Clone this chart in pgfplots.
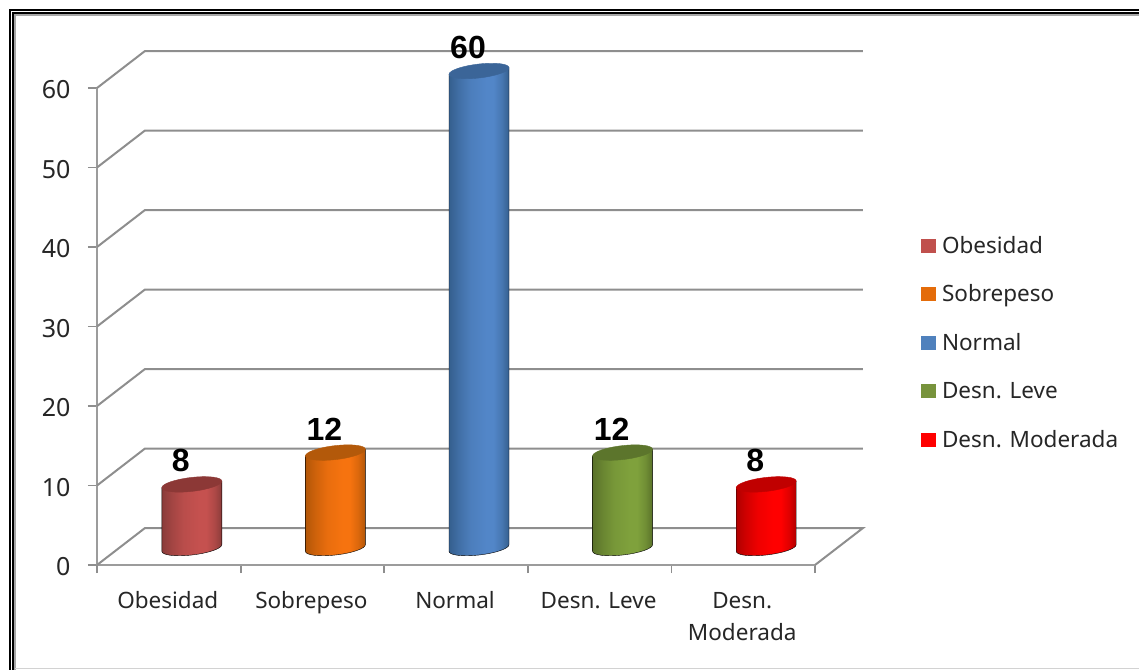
\documentclass[border=0pt]{standalone}
\usepackage{pgfplots}
\usepackage{fontspec}
\pgfplotsset{compat=1.18}
\setmainfont{Noto Sans}
\newfontfamily\lblfont{Liberation Sans}
\pgfdeclareplotmark{cylnull}{}
\definecolor{gridc}{HTML}{8E8E8E}
\definecolor{axisc}{HTML}{9C9C9C}
\definecolor{txt}{HTML}{262626}
\definecolor{aM}{HTML}{C5514F}\definecolor{aE}{HTML}{8A3C3A}\definecolor{aT}{HTML}{8C3836}\definecolor{aL}{HTML}{C0504D}
\definecolor{bM}{HTML}{F6730F}\definecolor{bE}{HTML}{B25608}\definecolor{bT}{HTML}{B3590A}\definecolor{bL}{HTML}{E46C0A}
\definecolor{cM}{HTML}{5286C8}\definecolor{cE}{HTML}{355F8E}\definecolor{cT}{HTML}{3B6598}\definecolor{cL}{HTML}{4F81BD}
\definecolor{dM}{HTML}{7FA13C}\definecolor{dE}{HTML}{5A722A}\definecolor{dT}{HTML}{5C752C}\definecolor{dL}{HTML}{77933C}
\definecolor{eM}{HTML}{FF0000}\definecolor{eE}{HTML}{B00000}\definecolor{eT}{HTML}{C00000}\definecolor{eL}{HTML}{FF0000}
\newcommand\defcyl[1]{%
  \pgfdeclarehorizontalshading{cyl#1}{100bp}{%
    color(0bp)=(#1E); color(25bp)=(#1E); color(33bp)=(#1E!60!#1M); color(43bp)=(#1E!20!#1M);
    color(56bp)=(#1M); color(62bp)=(#1M); color(69bp)=(#1E!40!#1M); color(75bp)=(#1E); color(100bp)=(#1E)}}
\defcyl{a}\defcyl{b}\defcyl{c}\defcyl{d}\defcyl{e}
\newcommand\drawcyl[2]{%
  \pgfmathsetmacro\cylh{\cylval*7.95}%
  \begin{scope}[x=1pt,y=1pt]
    \shade[shading=#1]
      (-30,-3.3) -- (-30,-3.3-\cylh)
      .. controls (-30,-7.17-\cylh) and (-16.57,-8.82-\cylh) .. (0,-7-\cylh)
      .. controls (16.57,-5.18-\cylh) and (30,-0.57-\cylh) .. (30,3.3-\cylh)
      -- (30,3.3) -- (-30,-3.3) -- cycle;
    \fill[#2] (-30,-3.3)
      .. controls (-30,-7.17) and (-16.57,-8.82) .. (0,-7)
      .. controls (16.57,-5.18) and (30,-0.57) .. (30,3.3)
      .. controls (30,7.17) and (16.57,8.82) .. (0,7)
      .. controls (-16.57,5.18) and (-30,0.57) .. (-30,-3.3) -- cycle;
  \end{scope}}
\pgfplotsset{
  cyl/.style n args={3}{
    only marks, mark=cylnull,
    nodes near coords,
    every node near coord/.append style={
      font=\fontsize{32}{32}\selectfont\lblfont\bfseries, text=black,
      anchor=south, inner sep=0pt, xshift=-11pt, yshift=12pt},
    visualization depends on={rawy \as \cylval},
    scatter/@pre marker code/.append code={\drawcyl{#1}{#2}},
    legend image code/.code={\fill[#3] (0pt,-4.5pt) rectangle (13.5pt,8.5pt);},
  }
}
\begin{document}
\begin{tikzpicture}[x=1pt,y=1pt]
\useasboundingbox (0,0) rectangle (1139,669);
% frame
\begin{scope}
\clip (0,0) rectangle (1139,669);
\draw[black,line width=2.2] (10,-5) -- (10,659) -- (1145,659);
\draw[black,line width=2] (13,-5) -- (13,656) -- (1145,656);
\draw[gray!70,line width=1.4] (15,-5) -- (15,654) -- (1145,654);
\draw[gray!35,line width=1] (15,0.5) -- (1145,0.5);
\end{scope}
% walls
\begin{axis}[
  at={(97pt,104pt)}, anchor=south west, scale only axis,
  width=718pt, height=477pt,
  xmin=-0.5, xmax=4.5, ymin=0, ymax=60, clip=false,
  axis x line*=bottom, axis y line*=left,
  axis line style={-,draw=axisc,line width=2pt},
  xtick={0,1,2,3,4},
  xticklabels={\rule{0pt}{18pt}Obesidad,\rule{0pt}{18pt}Sobrepeso,\rule{0pt}{18pt}Normal,\rule{0pt}{18pt}Desn. Leve,{\rule{0pt}{18pt}Desn.\\Moderada}},
  minor xtick={-0.5,0.5,1.5,2.5,3.5,4.5},
  ytick={0,10,20,30,40,50,60},
  tick align=outside, major tick length=9pt, minor tick length=8pt,
  major x tick style={draw=none},
  minor x tick style={draw=gridc,line width=1.8pt},
  major y tick style={draw=gridc,line width=1.8pt},
  /pgf/number format/assume math mode=true,
  xticklabel style={font=\fontsize{22.5}{32}\selectfont, text=txt, align=center, anchor=north, yshift=-13pt, xshift=-1pt},
  yticklabel style={font=\fontsize{25}{28}\selectfont, text=txt, xshift=-14pt, yshift=-2pt},
]
\addplot[gridc,line width=2pt] coordinates {(-0.5,60) (-0.166,64.65) (4.834,64.65)};
\addplot[gridc,line width=2pt] coordinates {(-0.5,50) (-0.166,54.65) (4.834,54.65)};
\addplot[gridc,line width=2pt] coordinates {(-0.5,40) (-0.166,44.65) (4.834,44.65)};
\addplot[gridc,line width=2pt] coordinates {(-0.5,30) (-0.166,34.65) (4.834,34.65)};
\addplot[gridc,line width=2pt] coordinates {(-0.5,20) (-0.166,24.65) (4.834,24.65)};
\addplot[gridc,line width=2pt] coordinates {(-0.5,10) (-0.166,14.65) (4.834,14.65)};
\addplot[gridc,line width=2pt] coordinates {(-0.5,0) (-0.166,4.65) (4.834,4.65) (4.5,0)};
\end{axis}
% data
\begin{axis}[
  at={(120pt,121pt)}, anchor=south west, scale only axis,
  width=718pt, height=477pt,
  xmin=-0.5, xmax=4.5, ymin=0, ymax=60, clip=false, hide axis,
  /pgf/number format/assume math mode=true,
  legend cell align=left,
  legend style={draw=none, fill=none, at={(1.1155,0.652)}, anchor=north west,
    inner sep=0pt, row sep=27.5pt, font=\fontsize{22.5}{26}\selectfont,
    text=txt,
    nodes={inner sep=0pt, text height=16pt, text depth=5pt},
    /tikz/every even column/.append style={column sep=0pt},
    /tikz/every odd column/.append style={column sep=7pt}},
]
\addplot[cyl={cyla}{aT}{aL}] coordinates {(0,8)};
\addlegendentry{Obesidad}
\addplot[cyl={cylb}{bT}{bL}] coordinates {(1,12)};
\addlegendentry{Sobrepeso}
\addplot[cyl={cylc}{cT}{cL}] coordinates {(2,60)};
\addlegendentry{Normal}
\addplot[cyl={cyld}{dT}{dL}] coordinates {(3,12)};
\addlegendentry{Desn. Leve}
\addplot[cyl={cyle}{eT}{eL}] coordinates {(4,8)};
\addlegendentry{Desn. Moderada}
\end{axis}
\end{tikzpicture}
\end{document}
